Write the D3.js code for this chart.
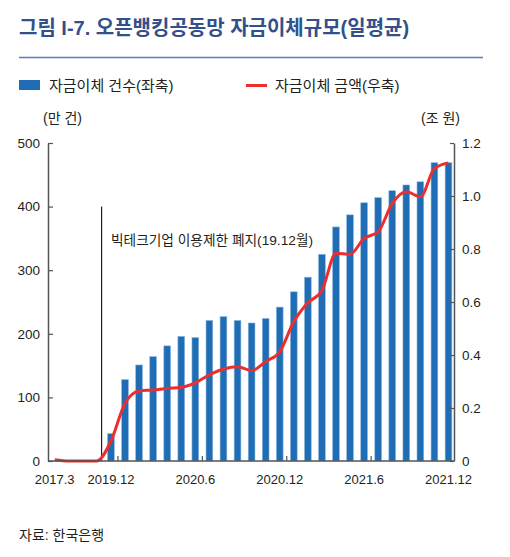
<!DOCTYPE html>
<html><head><meta charset="utf-8">
<script src="https://cdn.jsdelivr.net/npm/d3@7"></script>
<style>
body{margin:0;background:#fff;}
text{font-family:"Liberation Sans","Noto Sans CJK KR",Arial,sans-serif;fill:#231f20;}
</style></head><body>
<svg id="c" width="510" height="557"></svg>
<script>
const categories = ["2017.3","2018.3","2019.3","2019.11","2019.12","2020.1","2020.2","2020.3","2020.4","2020.5","2020.6","2020.7","2020.8","2020.9","2020.10","2020.11","2020.12","2021.1","2021.2","2021.3","2021.4","2021.5","2021.6","2021.7","2021.8","2021.9","2021.10","2021.11","2021.12"];
const countValues = [0,0,0,0,43,128,151,164,181,196,194,221,227,221,217,224,242,266,289,325,368,387,406,414,425,434,439,469,469];
const amountValues = [0.005,0,0,0,0.075,0.218,0.264,0.268,0.274,0.278,0.295,0.325,0.347,0.356,0.341,0.375,0.412,0.526,0.597,0.643,0.784,0.780,0.840,0.865,0.972,1.016,0.997,1.104,1.125];
const xTickLabels = ["2017.3","2019.12","2020.6","2020.12","2021.6","2021.12"];
const xTickMarks = ["2020.1","2020.7","2021.1","2021.7"]; // ticks drawn on left edge of these categories
const leftTicks = [0,100,200,300,400,500];
const rightTicks = [0,0.2,0.4,0.6,0.8,1.0,1.2];
const title = "그림 I-7. 오픈뱅킹공동망 자금이체규모(일평균)";
const legendLabels = ["자금이체 건수(좌축)","자금이체 금액(우축)"];
const annotation = "빅테크기업 이용제한 폐지(19.12월)";
const annotationAt = "2019.11";
const source = "자료: 한국은행";

const svg = d3.select("#c");
const plotL = 48, plotR = 454, plotT = 143, plotB = 461;
const x = d3.scalePoint().domain(categories).range([54.7, 448.5]);
const step = x.step();
const yL = d3.scaleLinear().domain([0,500]).range([plotB, plotT]);
const yR = d3.scaleLinear().domain([0,1.2]).range([plotB, plotT]);
const blue = "#1f6db5", red = "#ee2d2f";

// title
svg.append("text").attr("x",19).attr("y",35).text(title)
  .style("font-size","20px").style("font-weight","bold").style("fill","#34508a");
svg.append("line").attr("x1",19).attr("x2",483).attr("y1",57.5).attr("y2",57.5)
  .attr("stroke","#5a7dbd").attr("stroke-width",1.3);

// legend
svg.append("rect").attr("x",19).attr("y",80).attr("width",21).attr("height",10).attr("fill",blue);
svg.append("text").attr("x",49).attr("y",91).text(legendLabels[0]).style("font-size","15px");
svg.append("line").attr("x1",246).attr("x2",267).attr("y1",85.5).attr("y2",85.5).attr("stroke",red).attr("stroke-width",3);
svg.append("text").attr("x",275).attr("y",91).text(legendLabels[1]).style("font-size","15px");

// units
svg.append("text").attr("x",43).attr("y",123).text("(만 건)").style("font-size","14px");
svg.append("text").attr("x",421).attr("y",123).text("(조 원)").style("font-size","14px");

// bars
const bw = step*0.48;
svg.append("g").selectAll("rect").data(categories.map((c,i)=>({c,v:countValues[i]})).filter(d=>d.v>0))
  .join("rect")
  .attr("x",d=>x(d.c)-bw/2).attr("width",bw)
  .attr("y",d=>yL(d.v)).attr("height",d=>yL(0)-yL(d.v))
  .attr("fill",blue).attr("stroke","#8cb6df").attr("stroke-width",0.6);

// annotation line
const ax = x(annotationAt) + step/3;
svg.append("line").attr("x1",ax).attr("x2",ax).attr("y1",yL(400)).attr("y2",plotB)
  .attr("stroke","#231f20").attr("stroke-width",1.2);
svg.append("text").attr("x",x("2019.12")).attr("y",245).text(annotation).style("font-size","13.7px");

// red line
const line = d3.line().x((d,i)=>x(categories[i])).y(d=>yR(d)).curve(d3.curveMonotoneX);
svg.append("path").datum(amountValues).attr("d",line).attr("fill","none")
  .attr("stroke",red).attr("stroke-width",3).attr("stroke-linejoin","round");

// axes
const axisColor = "#555";
const gL = svg.append("g").attr("transform",`translate(${plotL},0)`)
  .call(d3.axisLeft(yL).tickValues(leftTicks).tickSizeInner(-5).tickSizeOuter(0).tickPadding(8));
const gR = svg.append("g").attr("transform",`translate(${plotR},0)`)
  .call(d3.axisRight(yR).tickValues(rightTicks).tickSizeInner(-4).tickSizeOuter(0).tickPadding(8)
    .tickFormat(d=> d===0 ? "0" : d3.format(".1f")(d)));
[gL,gR].forEach(g=>{
  g.select(".domain").attr("stroke",axisColor).attr("stroke-width",1.5);
  g.selectAll(".tick line").attr("stroke",axisColor).attr("stroke-width",1.2);
  g.selectAll("text").style("font-size","13.5px").style("font-family","Liberation Sans, Arial, sans-serif").attr("fill","#231f20");
});

// x axis
svg.append("line").attr("x1",plotL).attr("x2",plotR).attr("y1",plotB).attr("y2",plotB)
  .attr("stroke",axisColor).attr("stroke-width",1.5);
svg.append("g").selectAll("line").data(xTickMarks).join("line")
  .attr("x1",d=>x(d)-step/2).attr("x2",d=>x(d)-step/2).attr("y1",plotB).attr("y2",plotB-5)
  .attr("stroke",axisColor).attr("stroke-width",1.2);
svg.append("g").selectAll("text").data(xTickLabels).join("text")
  .attr("x",d=>x(d)).attr("y",484).attr("text-anchor","middle").text(d=>d)
  .style("font-size","13px");

// source
svg.append("text").attr("x",19).attr("y",540).text(source).style("font-size","14px");
</script></body></html>
